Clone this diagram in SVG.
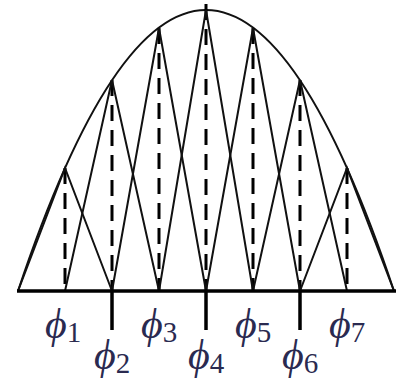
<svg xmlns="http://www.w3.org/2000/svg" width="403" height="382" viewBox="0 0 403 382">
<style>
.hat{fill:none;stroke:#111;stroke-width:2;stroke-linejoin:miter}
.curve{fill:none;stroke:#111;stroke-width:2}
.dash{stroke:#000;stroke-width:3;stroke-dasharray:16 9}
.axis{stroke:#000;stroke-width:3.5;fill:none}
.lbl{font-family:"Liberation Serif","DejaVu Serif",serif;font-style:italic;font-size:42px;fill:#2a2a50;text-anchor:middle}
.sub{font-style:normal;font-size:29px}
</style>
<rect width="403" height="382" fill="#fff"/>
<g id="connectors">
<path class="curve" d="M18,291 Q206,-271 394,291"/>
<g id="dashes">
<line class="dash" x1="65" y1="168" x2="65" y2="291"/>
<line class="dash" x1="112" y1="80" x2="112" y2="291"/>
<line class="dash" x1="159" y1="28" x2="159" y2="291"/>
<line class="dash" x1="206" y1="4" x2="206" y2="291"/>
<line class="dash" x1="253" y1="28" x2="253" y2="291"/>
<line class="dash" x1="300" y1="80" x2="300" y2="291"/>
<line class="dash" x1="347" y1="168" x2="347" y2="291"/>
</g>
</g>
<g id="phi1"><path class="hat" d="M18,291 L65,168 L112,291"/><text class="lbl" x="63" y="338">ϕ<tspan class="sub" dy="4">1</tspan></text></g>
<g id="phi2"><path class="hat" d="M65,291 L112,80 L159,291"/><text class="lbl" x="112" y="369">ϕ<tspan class="sub" dy="4">2</tspan></text></g>
<g id="phi3"><path class="hat" d="M112,291 L159,28 L206,291"/><text class="lbl" x="159" y="338">ϕ<tspan class="sub" dy="4">3</tspan></text></g>
<g id="phi4"><path class="hat" d="M159,291 L206,10 L253,291"/><text class="lbl" x="206" y="369">ϕ<tspan class="sub" dy="4">4</tspan></text></g>
<g id="phi5"><path class="hat" d="M206,291 L253,28 L300,291"/><text class="lbl" x="253" y="338">ϕ<tspan class="sub" dy="4">5</tspan></text></g>
<g id="phi6"><path class="hat" d="M253,291 L300,80 L347,291"/><text class="lbl" x="300" y="369">ϕ<tspan class="sub" dy="4">6</tspan></text></g>
<g id="phi7"><path class="hat" d="M300,291 L347,168 L394,291"/><text class="lbl" x="347" y="338">ϕ<tspan class="sub" dy="4">7</tspan></text></g>
<g id="axis">
<line class="axis" x1="17" y1="291" x2="396" y2="291"/>
<line class="axis" x1="112" y1="291" x2="112" y2="330"/>
<line class="axis" x1="206" y1="291" x2="206" y2="330"/>
<line class="axis" x1="300" y1="291" x2="300" y2="330"/>
</g>
</svg>
